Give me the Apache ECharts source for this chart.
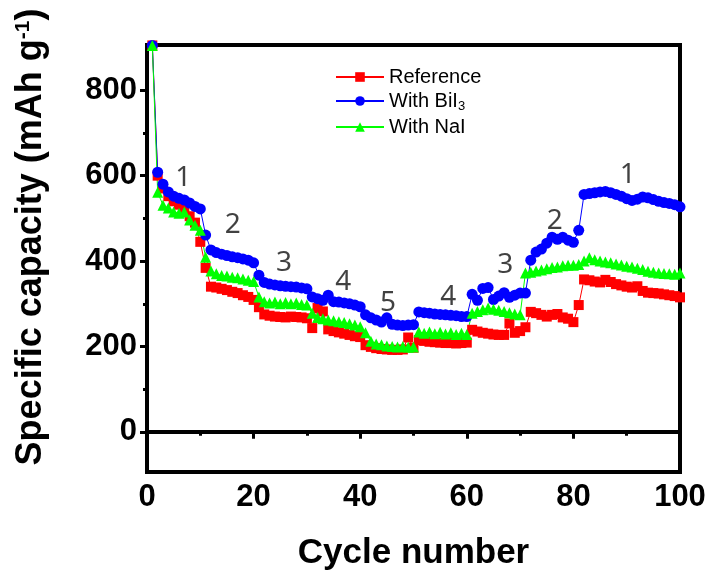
<!DOCTYPE html>
<html>
<head>
<meta charset="utf-8">
<script src="https://cdn.jsdelivr.net/npm/echarts@6/dist/echarts.min.js"></script>
<style>
  html, body { margin: 0; padding: 0; background: #fff; }
  #main { width: 713px; height: 583px; }
</style>
</head>
<body>
<div id="main"></div>
<script>
let chart = echarts.init(document.getElementById('main'));

// Capacity per cycle (cycles 1..100)
let reference = [
    905, 600, 570, 552, 540, 532, 525, 505, 490, 445,
    384, 340, 338, 335, 332, 328, 325, 320, 316, 309,
    292, 275, 272, 270, 269, 268, 270, 269, 268, 266,
    243, 290, 282, 240, 236, 233, 230, 227, 224, 222,
    203, 199, 196, 194, 193, 192, 192, 193, 221, 197,
    215, 213, 211, 210, 209, 208, 208, 207, 208, 209,
    239, 235, 232, 230, 228, 227, 227, 254, 232, 236,
    245, 281, 278, 274, 270, 274, 276, 268, 265, 257,
    297, 357, 355, 352, 350, 356, 351, 346, 343, 340,
    338, 341, 330, 326, 325, 324, 322, 320, 318, 315
];
let withBiI3 = [
    905, 608, 580, 562, 552, 547, 543, 536, 528, 522,
    461, 426, 420, 416, 413, 410, 408, 405, 402, 396,
    367, 350, 346, 344, 342, 341, 340, 339, 337, 335,
    316, 312, 308, 320, 305, 304, 302, 300, 297, 293,
    274, 267, 262, 257, 267, 252, 250, 249, 250, 251,
    281, 279, 278, 276, 275, 274, 273, 272, 270, 270,
    322, 308, 336, 338, 310, 318, 326, 315, 320, 325,
    325, 402, 421, 428, 442, 456, 451, 456, 449, 444,
    472, 556, 558, 560, 562, 563, 560, 556, 552, 546,
    542, 545, 550, 548, 544, 540, 537, 535, 532, 527
];
let withNaI = [
    905, 561, 531, 524, 515, 512, 515, 496, 484, 472,
    409, 377, 370, 366, 365, 362, 361, 358, 355, 352,
    316, 305, 302, 304, 300, 303, 300, 302, 298, 297,
    278, 268, 265, 262, 260, 258, 256, 253, 250, 246,
    232, 212, 206, 204, 201, 200, 199, 200, 198, 199,
    234, 231, 234, 230, 233, 229, 232, 228, 231, 228,
    278, 282, 286, 290, 287, 285, 282, 279, 276, 274,
    372, 374, 377, 379, 382, 385, 386, 389, 390, 390,
    392, 400, 408, 403, 400, 398, 396, 393, 391, 388,
    386, 383, 380, 376, 374, 372, 371, 370, 369, 372
];

// Rate-step annotations
let stepCycle = [6.8, 16.1, 25.7, 36.8, 45.2, 56.5, 67.2, 76.5, 90.2];
let stepValue = [594, 484, 395, 351, 302, 316, 391, 494, 601];
let stepText = ['1', '2', '3', '4', '5', '4', '3', '2', '1'];

let yLabelTicks = [0, 200, 400, 600, 800];
let yMinorTicks = [100, 300, 500, 700];

function toPairs(arr) {
    return arr.map(function (v, i) { return [i + 1, v]; });
}

let font = '"Liberation Sans", Arial, sans-serif';

let option = {
    animation: false,
    backgroundColor: '#fff',
    grid: { left: 147, right: 33, top: 45, bottom: 111, show: true, borderColor: '#000', borderWidth: 4 },
    legend: {
        orient: 'vertical',
        left: 330,
        top: 62,
        itemWidth: 48,
        itemHeight: 12,
        itemGap: 4,
        data: ['Reference', 'With BiI3', 'With NaI'],
        formatter: function (name) {
            return name === 'With BiI3' ? 'With BiI{sub|3}' : name;
        },
        textStyle: {
            fontFamily: font, fontSize: 20, color: '#000',
            rich: { sub: { fontFamily: font, fontSize: 13, padding: [11, 0, 0, 0] } }
        }
    },
    graphic: [{
        type: 'text',
        x: 31,
        y: 237,
        rotation: Math.PI / 2,
        style: {
            text: 'Specific capacity (mAh g{sup|-1})',
            fontFamily: font,
            fontSize: 36,
            fontWeight: 'bold',
            fill: '#000',
            align: 'center',
            verticalAlign: 'middle',
            rich: { sup: { fontFamily: font, fontSize: 21, fontWeight: 'bold', padding: [0, 0, 16, 0] } }
        }
    }],
    xAxis: {
        type: 'value',
        min: 0,
        max: 100,
        interval: 20,
        name: 'Cycle number',
        nameLocation: 'middle',
        nameGap: 64,
        nameTextStyle: { fontFamily: font, fontSize: 35, fontWeight: 'bold', color: '#000' },
        axisLine: { lineStyle: { color: '#000', width: 4 } },
        axisTick: { inside: false, length: 7, lineStyle: { width: 3, color: '#000' } },
        minorTick: { show: true, splitNumber: 2, length: 4, lineStyle: { width: 3, color: '#000' } },
        axisLabel: { fontFamily: font, fontSize: 31, fontWeight: 'bold', color: '#000', margin: 10 },
        splitLine: { show: false }
    },
    yAxis: [{
        type: 'value',
        min: -94,
        max: 906,
        axisLine: { show: true, lineStyle: { color: '#000', width: 4 } },
        axisTick: { show: true, length: 7, customValues: yLabelTicks, lineStyle: { width: 3, color: '#000' } },
        axisLabel: { fontFamily: font, fontSize: 31, fontWeight: 'bold', color: '#000', margin: 10, customValues: yLabelTicks },
        splitLine: { show: false }
    }, {
        type: 'value',
        position: 'left',
        min: -94,
        max: 906,
        axisLine: { show: false },
        axisTick: { show: true, length: 4, customValues: yMinorTicks, lineStyle: { width: 3, color: '#000' } },
        axisLabel: { show: false },
        splitLine: { show: false }
    }],
    series: [{
        name: 'Reference',
        type: 'line',
        data: toPairs(reference),
        symbol: 'rect',
        symbolSize: 10,
        color: '#ff0000',
        lineStyle: { width: 1 }
    }, {
        name: 'With BiI3',
        type: 'line',
        data: toPairs(withBiI3),
        symbol: 'circle',
        symbolSize: 11,
        color: '#0000ff',
        lineStyle: { width: 1 }
    }, {
        name: 'With NaI',
        type: 'line',
        data: toPairs(withNaI),
        symbol: 'triangle',
        symbolSize: 11,
        color: '#00ff00',
        lineStyle: { width: 1 }
    }, {
        name: 'steps',
        type: 'scatter',
        symbolSize: 0,
        silent: true,
        z: 5,
        data: stepCycle.map(function (c, i) { return [c, stepValue[i], stepText[i]]; }),
        label: {
            show: true,
            position: 'inside',
            formatter: function (p) { return p.data[2]; },
            fontFamily: '"Noto Sans", "Open Sans", sans-serif',
            fontSize: 28,
            color: '#111'
        }
    }]
};

chart.setOption(option);
</script>
</body>
</html>
